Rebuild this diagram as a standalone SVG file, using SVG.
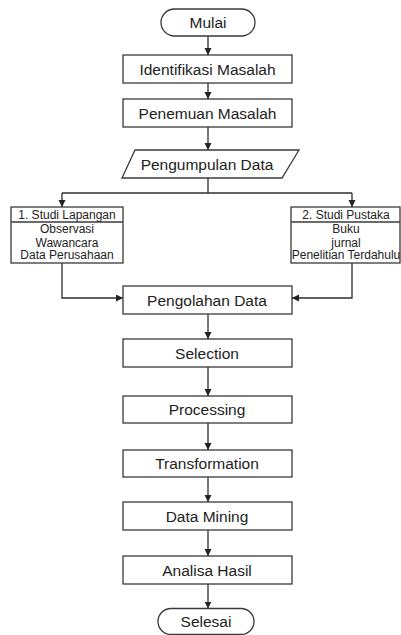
<svg xmlns="http://www.w3.org/2000/svg" width="401" height="635" viewBox="0 0 401 635">
<style>
.shape{fill:#fff;stroke:#3a3a3a;stroke-width:1.3}
.line{fill:none;stroke:#2e2e2e;stroke-width:1.3}
.t{font-family:"Liberation Sans",Arial,sans-serif;font-size:15.5px;fill:#222;text-anchor:middle}
.s{font-family:"Liberation Sans",Arial,sans-serif;font-size:12px;fill:#222;text-anchor:middle}
</style>
<defs>
<marker id="arr" markerUnits="userSpaceOnUse" markerWidth="7" markerHeight="8" refX="7" refY="3.5" orient="auto">
<path d="M0,0 L7,3.5 L0,7 Z" fill="#222"/>
</marker>
</defs>
<rect width="401" height="635" fill="#fff"/>
<g id="connectors">
<line class="line" x1="208" y1="36" x2="208" y2="55" marker-end="url(#arr)"/>
<line class="line" x1="208" y1="83" x2="208" y2="99" marker-end="url(#arr)"/>
<line class="line" x1="208" y1="127" x2="208" y2="150" marker-end="url(#arr)"/>
<polyline class="line" points="208,178 208,193"/>
<line class="line" x1="62" y1="193" x2="352" y2="193"/>
<line class="line" x1="62" y1="193" x2="62" y2="207" marker-end="url(#arr)"/>
<line class="line" x1="352" y1="193" x2="352" y2="207" marker-end="url(#arr)"/>
<polyline class="line" points="62,263 62,298 123,298" marker-end="url(#arr)"/>
<polyline class="line" points="352,263 352,298 292,298" marker-end="url(#arr)"/>
<line class="line" x1="208" y1="314" x2="208" y2="339" marker-end="url(#arr)"/>
<line class="line" x1="208" y1="367" x2="208" y2="396" marker-end="url(#arr)"/>
<line class="line" x1="208" y1="423" x2="208" y2="450" marker-end="url(#arr)"/>
<line class="line" x1="208" y1="477" x2="208" y2="502" marker-end="url(#arr)"/>
<line class="line" x1="208" y1="530" x2="208" y2="556" marker-end="url(#arr)"/>
<line class="line" x1="208" y1="584" x2="208" y2="608.5" marker-end="url(#arr)"/>
</g>
<g id="mulai">
<rect class="shape" x="161" y="9" width="94" height="27" rx="13.5"/>
<text class="t" x="208" y="28">Mulai</text>
</g>
<g id="identifikasi">
<rect class="shape" x="123" y="55" width="169" height="28"/>
<text class="t" x="207.5" y="74.5">Identifikasi Masalah</text>
</g>
<g id="penemuan">
<rect class="shape" x="123" y="99" width="169" height="28"/>
<text class="t" x="207.5" y="118.5">Penemuan Masalah</text>
</g>
<g id="pengumpulan">
<polygon class="shape" points="135,150 299,150 282,178 122,178"/>
<text class="t" x="207" y="169.5">Pengumpulan Data</text>
</g>
<g id="studi-lapangan">
<rect class="shape" x="11" y="207" width="112" height="56"/>
<line class="shape" x1="11" y1="222" x2="123" y2="222"/>
<text class="s" x="67" y="219">1. Studi Lapangan</text>
<text class="s" x="67" y="233">Observasi</text>
<text class="s" x="67" y="246.5">Wawancara</text>
<text class="s" x="67" y="259">Data Perusahaan</text>
</g>
<g id="studi-pustaka">
<rect class="shape" x="291" y="207" width="109" height="56"/>
<line class="shape" x1="291" y1="222" x2="400" y2="222"/>
<text class="s" x="346" y="219">2. Studi Pustaka</text>
<text class="s" x="346" y="233">Buku</text>
<text class="s" x="346" y="246.5">jurnal</text>
<text class="s" x="346" y="259">Penelitian Terdahulu</text>
</g>
<g id="pengolahan">
<rect class="shape" x="123" y="286" width="169" height="28"/>
<text class="t" x="207" y="305.5">Pengolahan Data</text>
</g>
<g id="selection">
<rect class="shape" x="123" y="339" width="169" height="28"/>
<text class="t" x="207" y="358.5">Selection</text>
</g>
<g id="processing">
<rect class="shape" x="123" y="396" width="169" height="27"/>
<text class="t" x="207" y="415">Processing</text>
</g>
<g id="transformation">
<rect class="shape" x="123" y="450" width="169" height="27"/>
<text class="t" x="207" y="469">Transformation</text>
</g>
<g id="data-mining">
<rect class="shape" x="123" y="502" width="169" height="28"/>
<text class="t" x="207" y="521.5">Data Mining</text>
</g>
<g id="analisa">
<rect class="shape" x="123" y="556" width="169" height="28"/>
<text class="t" x="207" y="575.5">Analisa Hasil</text>
</g>
<g id="selesai">
<rect class="shape" x="158" y="608.5" width="96" height="26" rx="13"/>
<text class="t" x="206" y="627">Selesai</text>
</g>
</svg>
